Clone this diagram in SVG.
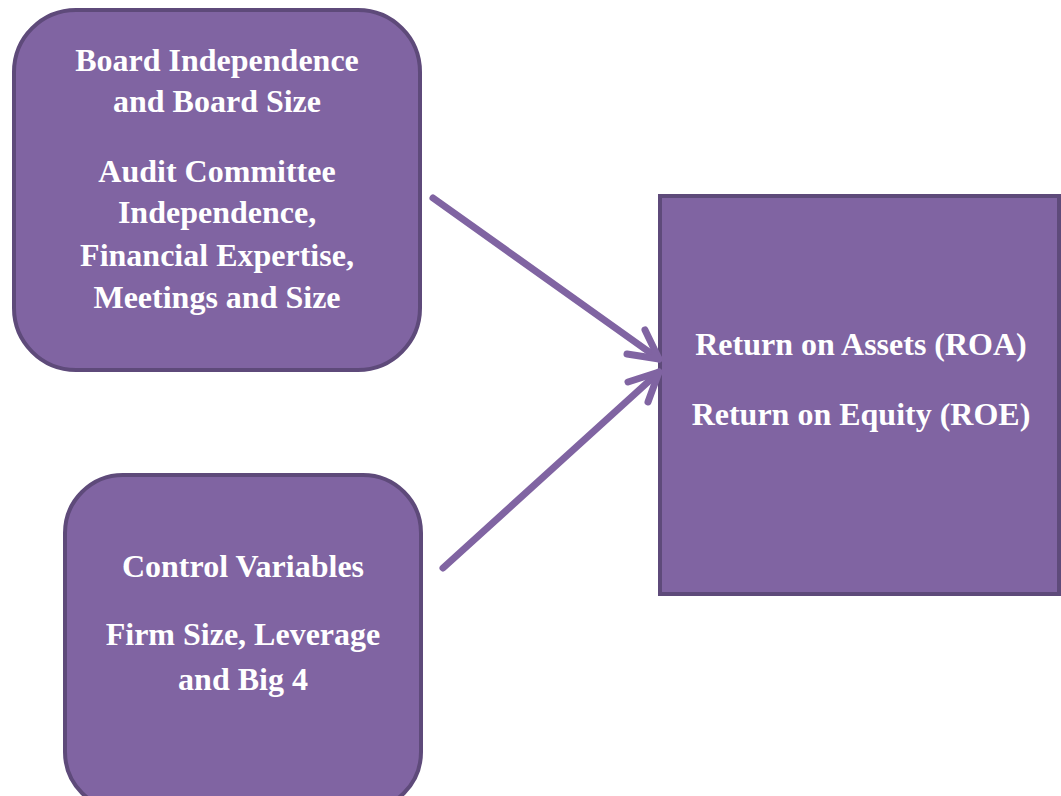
<svg xmlns="http://www.w3.org/2000/svg" width="1061" height="796" viewBox="0 0 1061 796" font-family="'Liberation Serif', Tinos, 'Times New Roman', 'DejaVu Serif', serif">
<style>
.box{fill:#8064A2;stroke:#5E4A7A;stroke-width:4}
.t{font-family:'Liberation Serif', Tinos, 'Times New Roman', 'DejaVu Serif', serif;font-weight:bold;font-size:32px;fill:#FFFFFF;text-anchor:middle}
.c{fill:none;stroke:#8064A2;stroke-width:7;stroke-linecap:round;stroke-linejoin:round}
</style>
<rect width="1061" height="796" fill="#FFFFFF"/>
<g id="node-governance">
<rect class="box" x="14" y="10" width="406" height="360" rx="62" ry="62"/>
<text class="t" x="217" y="71">Board Independence</text>
<text class="t" x="217" y="112">and Board Size</text>
<text class="t" x="217" y="182">Audit Committee</text>
<text class="t" x="217" y="223">Independence,</text>
<text class="t" x="217" y="266">Financial Expertise,</text>
<text class="t" x="217" y="308">Meetings and Size</text>
</g>
<g id="node-controls">
<rect class="box" x="65" y="475" width="356" height="335" rx="58" ry="58"/>
<text class="t" x="243" y="577">Control Variables</text>
<text class="t" x="243" y="645">Firm Size, Leverage</text>
<text class="t" x="243" y="690">and Big 4</text>
</g>
<g id="node-performance">
<rect class="box" x="660" y="196" width="399" height="398"/>
<text class="t" x="861" y="355">Return on Assets (ROA)</text>
<text class="t" x="861" y="425">Return on Equity (ROE)</text>
</g>
<g id="connectors">
<line class="c" x1="433" y1="198" x2="659" y2="359"/>
<polyline class="c" points="645,330 659,359 627,354"/>
<line class="c" x1="443" y1="568" x2="659" y2="372"/>
<polyline class="c" points="628,382 659,372 648,402"/>
</g>
</svg>
